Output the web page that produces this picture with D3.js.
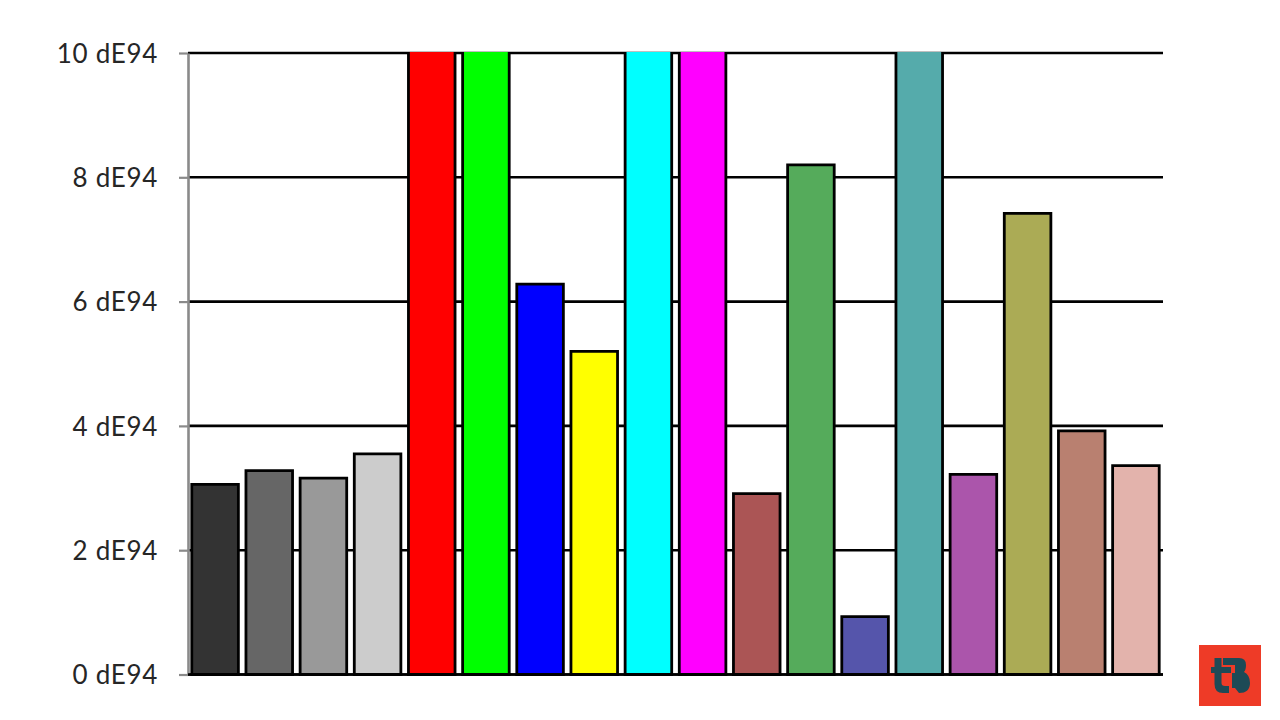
<!DOCTYPE html>
<html><head><meta charset="utf-8">
<script src="https://cdn.jsdelivr.net/npm/d3@7/dist/d3.min.js"></script>
<style>html,body{margin:0;padding:0;background:#fff;overflow:hidden}svg{display:block}</style>
</head><body><svg id="c" width="1280" height="720"></svg>
<script>
const categories = ["Black","Dark gray","Mid gray","Light gray","Red","Green","Blue","Yellow","Cyan","Magenta","Muted red","Muted green","Muted blue","Muted cyan","Muted magenta","Muted yellow","Skin dark","Skin light"];
// Bars that run off the top of the chart are read as the axis maximum, 10
const values = [3.06,3.28,3.16,3.55,10,10,6.28,5.2,10,10,2.91,8.2,0.93,10,3.22,7.42,3.92,3.36];
const colors = ["#333333","#666666","#999999","#cccccc","#ff0000","#00ff00","#0000ff","#ffff00","#00ffff","#ff00ff","#ab5555","#55ab5b","#5555ab","#55abab","#ab55ab","#abab55","#b98070","#e3b3ac"];
const yTicks = [0,2,4,6,8,10];
const yUnit = " dE94";
const yMax = 10;

const svg = d3.select("#c");
const x = d3.scaleBand().domain(categories).range([188,1163]).paddingInner(0.14).paddingOuter(0.07);
const y = d3.scaleLinear().domain([0,yMax]).range([674.5,53]);

// Horizontal gridlines
svg.append("g").selectAll("line").data(yTicks).join("line")
  .attr("x1",188).attr("x2",1163)
  .attr("y1",d=>y(d)).attr("y2",d=>y(d))
  .attr("stroke","#000").attr("stroke-width",2.6);

// Left axis
const axis = d3.axisLeft(y).tickValues(yTicks).tickSizeInner(9).tickSizeOuter(0).tickPadding(21).tickFormat(d=>d+yUnit);
const ag = svg.append("g").attr("transform","translate(188,0)").call(axis);
ag.select(".domain").attr("stroke","#8a8a8a").attr("stroke-width",2.6);
ag.selectAll(".tick line").attr("stroke","#8a8a8a").attr("stroke-width",2.2);
ag.selectAll("text").attr("fill","#262626").attr("dy","0.36em").style("font-family","Lato").style("font-size","26px").style("letter-spacing","0.7px");

// Bars
const rows = categories.map((c,i)=>({c,v:values[i],col:colors[i]}));
const bars = svg.append("g").selectAll("g").data(rows).join("g");
bars.append("rect")
  .attr("x",d=>x(d.c)).attr("width",x.bandwidth())
  .attr("y",d=>y(d.v)-(d.v>=yMax?1:0))
  .attr("height",d=>y(0)-y(d.v)+(d.v>=yMax?1:0))
  .attr("fill",d=>d.col);
bars.append("path")
  .attr("fill","none").attr("stroke","#000").attr("stroke-width",2.8)
  .attr("d",d=>{
    const p=d3.path(), l=x(d.c), r=l+x.bandwidth(), t=y(d.v), b=y(0);
    if(d.v>=yMax){ p.moveTo(l,t-1); p.lineTo(l,b); p.lineTo(r,b); p.lineTo(r,t-1); }
    else { p.moveTo(l,b); p.lineTo(l,t); p.lineTo(r,t); p.lineTo(r,b); p.closePath(); }
    return p.toString();
  });

// Baseline on top
svg.append("line").attr("x1",188).attr("x2",1163).attr("y1",y(0)).attr("y2",y(0)).attr("stroke","#000").attr("stroke-width",2.6);

// Logo
const logo = svg.append("g").attr("transform","translate(1199,645)");
logo.append("rect").attr("width",62).attr("height",61).attr("fill","#ee3b27");
logo.append("path").attr("fill","#1d4a56")
  .attr("d","M15.5 13H22.5V22H32V28H22.5V38Q22.5 41 26 41H30V48H24Q15.5 48 15.5 39V28H12V22H15.5Z M24 13H40Q47 13 47 20Q47 25 45 27Q51 30 51 38Q51 48 40 48L36 43H33V28H36V20H24Z");
</script></body></html>
